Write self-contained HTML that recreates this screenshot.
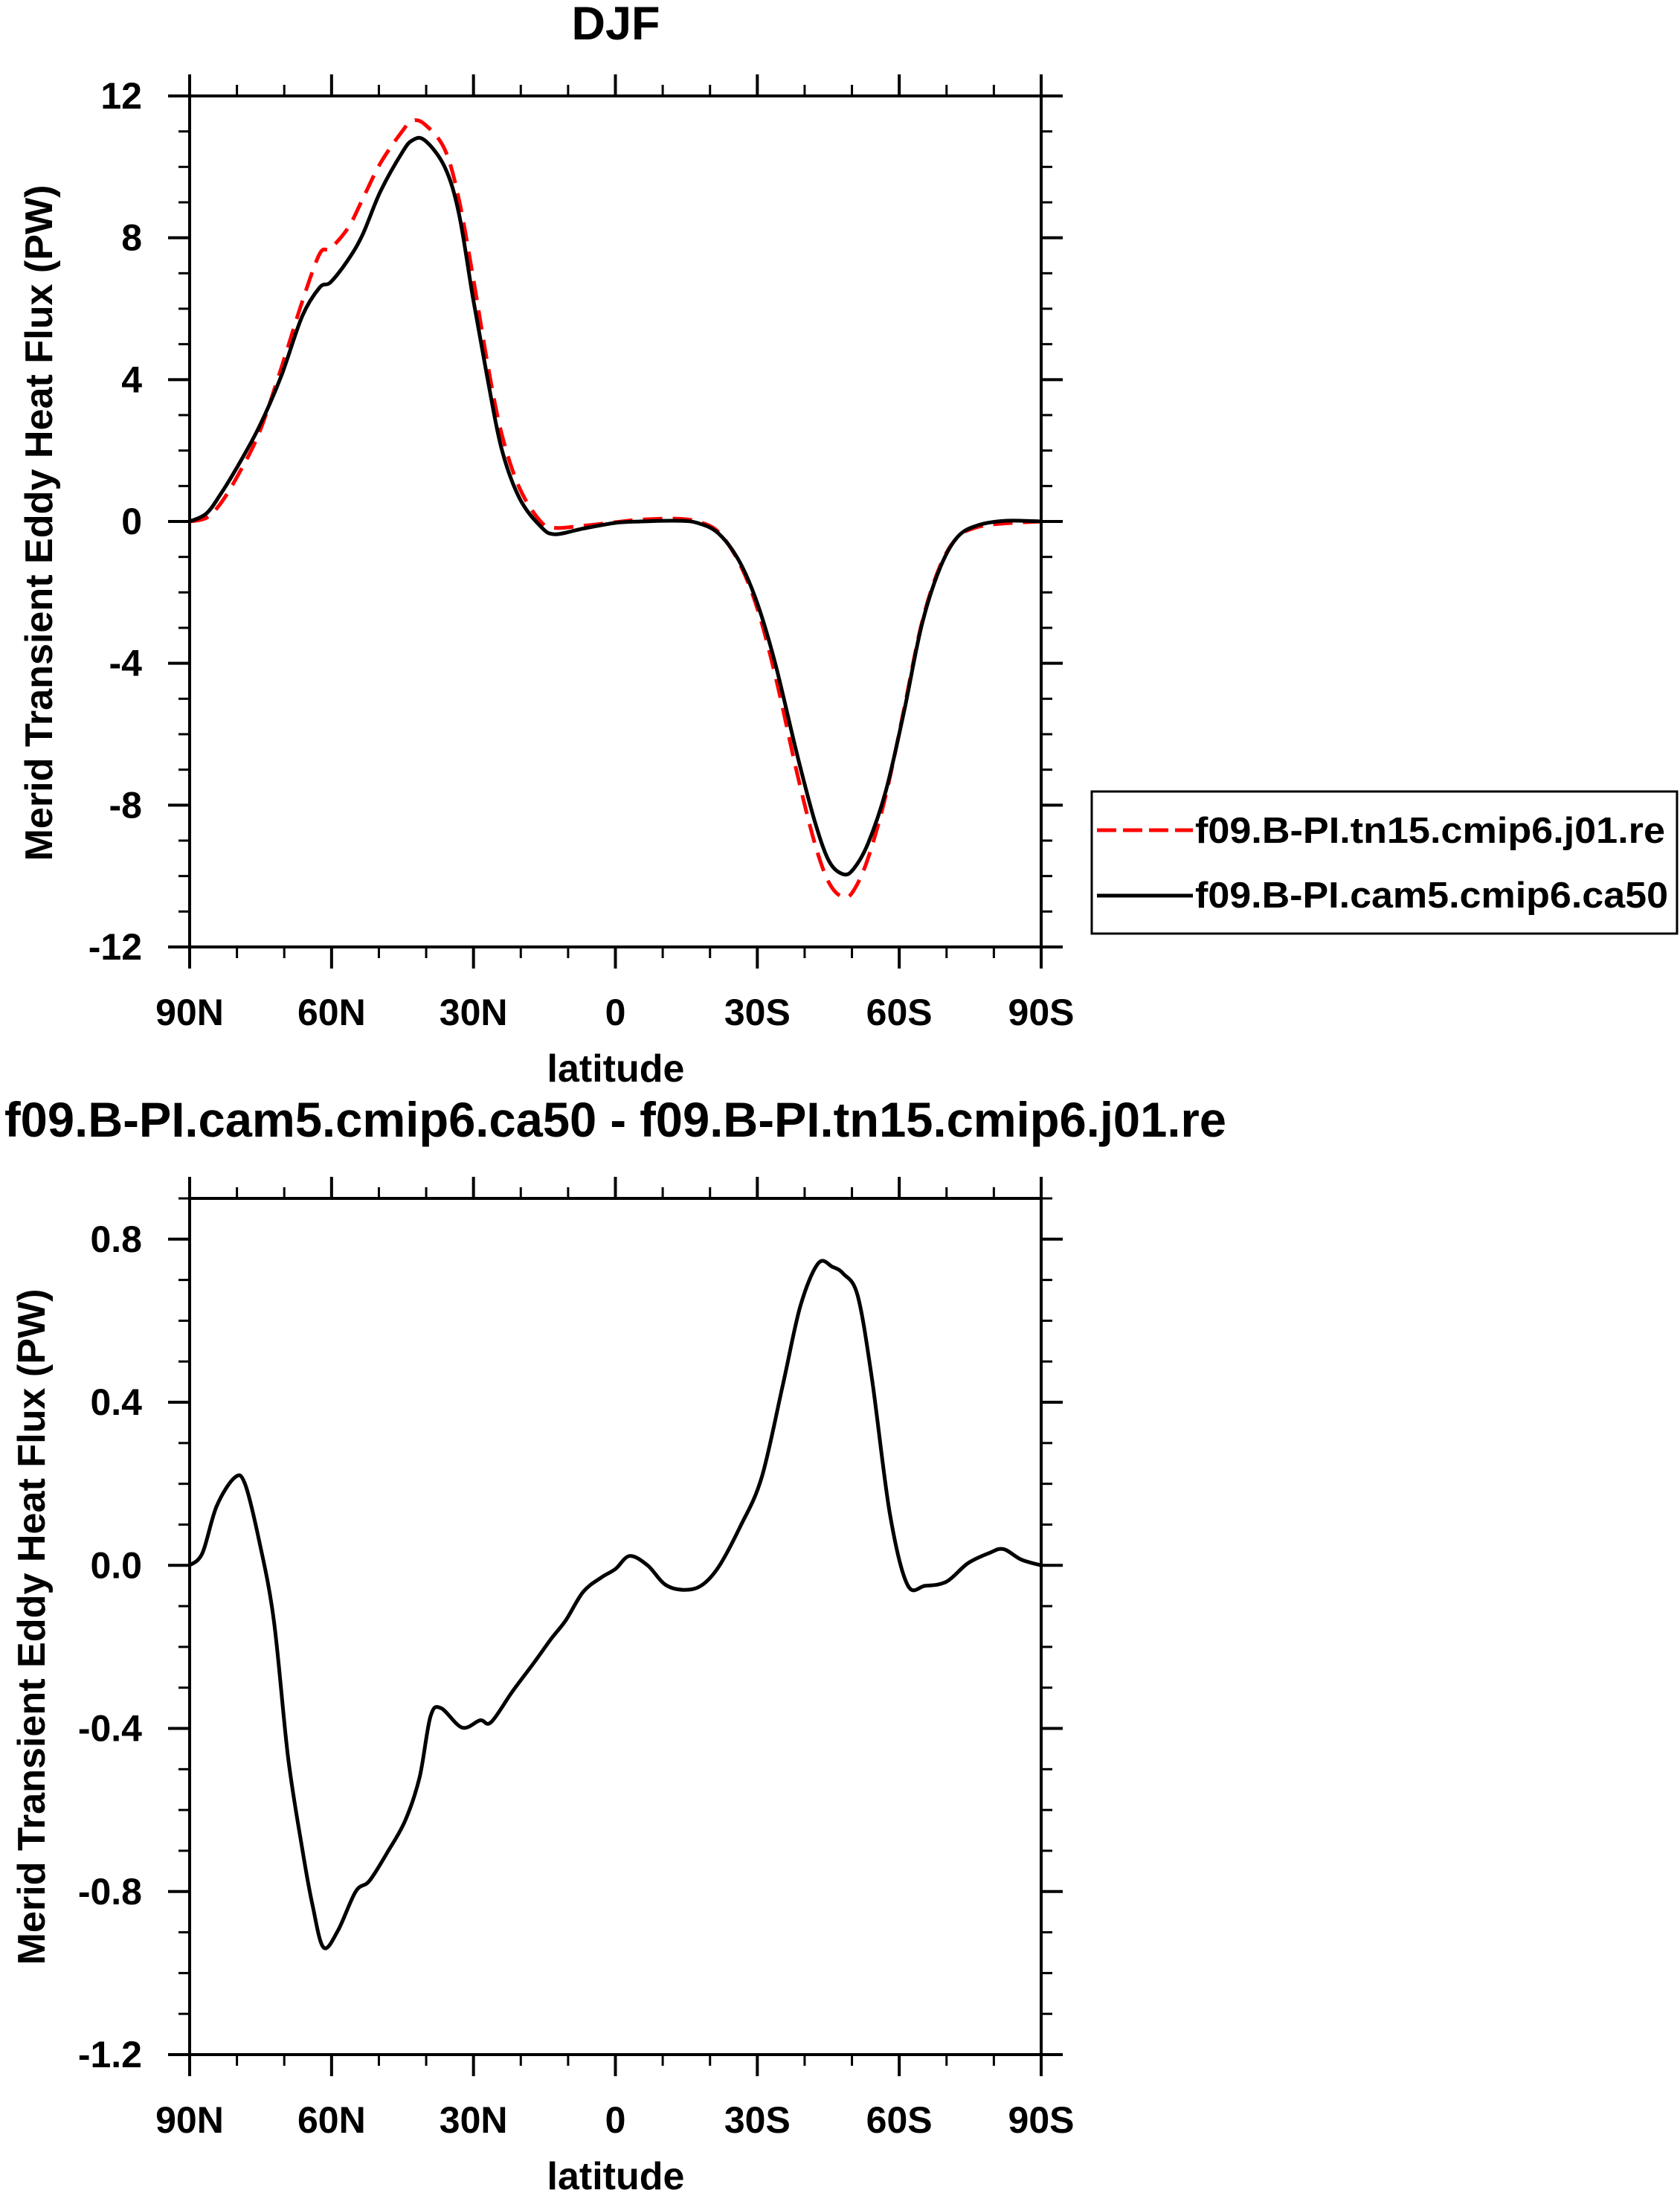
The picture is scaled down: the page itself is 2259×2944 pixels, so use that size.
<!DOCTYPE html>
<html><head><meta charset="utf-8"><style>
html,body{margin:0;padding:0;background:#fff}
svg{display:block;font-family:"Liberation Sans",Arial,sans-serif;font-weight:bold}
</style></head><body>
<svg id="c" width="2259" height="2944" viewBox="0 0 2259 2944"></svg>
<script>
// Top panel data (latitude in degrees, N positive)
const latsTop = [90,86.5,83.5,79.8,75.3,70.7,66.2,62.5,60.2,56.4,53.4,49.7,45.1,42.9,40.3,36.1,33.1,30.1,27.1,24.1,20.3,15.8,12.8,6.8,0,-5.3,-12.8,-17.3,-21.8,-26.3,-30.1,-33.9,-38.4,-42.2,-45.2,-48.2,-50.4,-53.4,-57.2,-61,-64.7,-68.5,-72.3,-76.8,-82.8,-90];
const ca50 = [0,0.22,0.76,1.57,2.67,4.08,5.79,6.6,6.75,7.4,8.1,9.3,10.4,10.75,10.75,10.0,8.7,6.3,4.08,2.07,0.66,-0.14,-0.36,-0.2,-0.04,0,0.02,-0.04,-0.34,-1.15,-2.35,-4.06,-6.57,-8.48,-9.59,-9.95,-9.79,-9.08,-7.58,-5.37,-2.95,-1.35,-0.44,-0.1,0.02,0];
const j01 = [0,0.1,0.5,1.3,2.5,4.3,6.2,7.55,7.7,8.3,9.1,10.1,11.0,11.3,11.2,10.5,9.1,6.9,4.5,2.5,0.95,0.0,-0.18,-0.12,-0.02,0.05,0.08,0.0,-0.3,-1.2,-2.5,-4.4,-7.1,-9.1,-10.2,-10.6,-10.4,-9.5,-7.7,-5.3,-2.9,-1.3,-0.45,-0.15,-0.05,0];
// Bottom panel data
const latsDiff = [90,87.3,84.3,80.5,78.3,75.3,72.2,69.2,66.2,64,61.7,58.7,54.9,52,48.2,44.4,41.4,39.1,36.9,32.4,28.6,26.3,21.8,17.3,13.5,10.5,6.8,3,0,-3,-6.8,-10.5,-14.3,-18.1,-21.8,-26.3,-30.9,-35.4,-39.1,-42.9,-45.9,-48.2,-51.2,-54.2,-58,-61.7,-65.5,-70,-74.5,-79,-82,-85.8,-90];
const diff = [0,0.03,0.145,0.215,0.2,0.06,-0.135,-0.47,-0.695,-0.835,-0.937,-0.897,-0.8,-0.774,-0.704,-0.625,-0.52,-0.371,-0.35,-0.398,-0.38,-0.385,-0.31,-0.24,-0.179,-0.135,-0.065,-0.03,-0.009,0.023,0,-0.047,-0.06,-0.05,-0.004,0.093,0.215,0.443,0.636,0.741,0.732,0.715,0.662,0.46,0.128,-0.047,-0.05,-0.04,0.005,0.03,0.04,0.014,0];
const xTickVals = [90,60,30,0,-30,-60,-90];
const xTickLabels = ["90N","60N","30N","0","30S","60S","90S"];
const yTopTicks = [12,8,4,0,-4,-8,-12];
const yTopLabels = ["12","8","4","0","-4","-8","-12"];
const yBotTicks = [0.8,0.4,0.0,-0.4,-0.8,-1.2];
const yBotLabels = ["0.8","0.4","0.0","-0.4","-0.8","-1.2"];

const NS="http://www.w3.org/2000/svg";
const svg=document.getElementById('c');
function el(t,a,p){const e=document.createElementNS(NS,t);for(const k in a)e.setAttribute(k,a[k]);(p||svg).appendChild(e);return e;}
const X0=255,X1=1400;
const xs=lat=>X0+(90-lat)/180*(X1-X0);
function smooth(pts){let d='M'+pts[0][0].toFixed(1)+','+pts[0][1].toFixed(1);
 for(let i=0;i<pts.length-1;i++){const p0=pts[i-1]||pts[i],p1=pts[i],p2=pts[i+1],p3=pts[i+2]||p2;
  const c1=[p1[0]+(p2[0]-p0[0])/6,p1[1]+(p2[1]-p0[1])/6],c2=[p2[0]-(p3[0]-p1[0])/6,p2[1]-(p3[1]-p1[1])/6];
  d+='C'+c1.map(v=>v.toFixed(1))+' '+c2.map(v=>v.toFixed(1))+' '+p2[0].toFixed(1)+','+p2[1].toFixed(1);}
 return d;}

function panel(o){
 const g=el('g',{});
 
 
 const ys=v=>o.Y1+(o.vmax-v)/(o.vmax-o.vmin)*(o.Y0-o.Y1);
 for(let lat=90;lat>=-90;lat-=10){const x=xs(lat);const major=lat%30===0;const L=major?29:15;
  const t1=el('line',{x1:x,x2:x,y1:o.Y0,y2:o.Y0+L,stroke:'#000','stroke-width':major?4:3},g);
  
  const t2=el('line',{x1:x,x2:x,y1:o.Y1,y2:o.Y1-L,stroke:'#000','stroke-width':major?4:3},g);
  }
 for(let k=Math.round(o.vmin/o.minor);k*o.minor<=o.vmax+1e-9;k++){const v=k*o.minor;const y=ys(v);
  const major=Math.abs(Math.round(v/o.major)*o.major-v)<1e-6;const L=major?29:15;
  const a=el('line',{x1:X0,x2:X0-L,y1:y,y2:y,stroke:'#000','stroke-width':major?4:3},g);
  
  const b=el('line',{x1:X1,x2:X1+L,y1:y,y2:y,stroke:'#000','stroke-width':major?4:3},g);
  }
 const fr=el('rect',{x:X0,y:o.Y1,width:X1-X0,height:o.Y0-o.Y1,fill:'none',stroke:'#000','stroke-width':4},g);
 
 xTickVals.forEach((v,i)=>{const t=el('text',{x:xs(v),y:o.Y0+105,'font-size':50,'text-anchor':'middle'},g);t.textContent=xTickLabels[i];
  });
 o.yt.forEach((v,i)=>{const t=el('text',{x:191,y:ys(v)+17,'font-size':50,'text-anchor':'end'},g);t.textContent=o.yl[i];
  });
 const xl=el('text',{x:828,y:o.Y0+181,'font-size':52,'text-anchor':'middle'},g);xl.textContent='latitude';
 
 const yl=el('text',{x:0,y:0,'font-size':52,'text-anchor':'middle',textLength:909,lengthAdjust:'spacingAndGlyphs',transform:`translate(${o.ytx},${o.ytc}) rotate(-90)`},g);
 yl.textContent='Merid Transient Eddy Heat Flux (PW)';
 
 o.series.forEach(s=>{const p=el('path',{d:smooth(s.lats.map((l,i)=>[xs(l),ys(s.vals[i])])),fill:'none',stroke:s.color,'stroke-width':5,'stroke-dasharray':s.dash||'none','stroke-linejoin':'round'},g);
  });
}
panel({name:'top-panel',Y1:129,Y0:1273,vmax:12,vmin:-12,major:4,minor:1,yt:yTopTicks,yl:yTopLabels,ytx:70,ytc:703,
 series:[{lats:latsTop,vals:j01,color:'#ff0000',dash:'26 14',name:'line-j01'},{lats:latsTop,vals:ca50,color:'#000',name:'line-ca50'}]});
panel({name:'bottom-panel',Y1:1611,Y0:2762,vmax:0.9,vmin:-1.2,major:0.4,minor:0.1,yt:yBotTicks,yl:yBotLabels,ytx:60,ytc:2187,
 series:[{lats:latsDiff,vals:diff,color:'#000',name:'line-diff'}]});

const t1=el('text',{x:828,y:53,'font-size':63,'text-anchor':'middle'});t1.textContent='DJF';

const t2=el('text',{x:6,y:1528,'font-size':66,textLength:1643,lengthAdjust:'spacingAndGlyphs'});
t2.textContent='f09.B-PI.cam5.cmip6.ca50 - f09.B-PI.tn15.cmip6.j01.re';


const lg=el('g',{});


const lb=el('rect',{x:1468,y:1064,width:787,height:191,fill:'#fff',stroke:'#000','stroke-width':3},lg);

const l1=el('line',{x1:1475,x2:1604,y1:1116,y2:1116,stroke:'#ff0000','stroke-width':5,'stroke-dasharray':'26 9'},lg);

const l2=el('line',{x1:1475,x2:1604,y1:1204,y2:1204,stroke:'#000','stroke-width':5},lg);

const lt1=el('text',{x:1607,y:1133,'font-size':49,textLength:632,lengthAdjust:'spacingAndGlyphs'},lg);lt1.textContent='f09.B-PI.tn15.cmip6.j01.re';

const lt2=el('text',{x:1607,y:1220,'font-size':49,textLength:636,lengthAdjust:'spacingAndGlyphs'},lg);lt2.textContent='f09.B-PI.cam5.cmip6.ca50';

</script>
</body></html>
